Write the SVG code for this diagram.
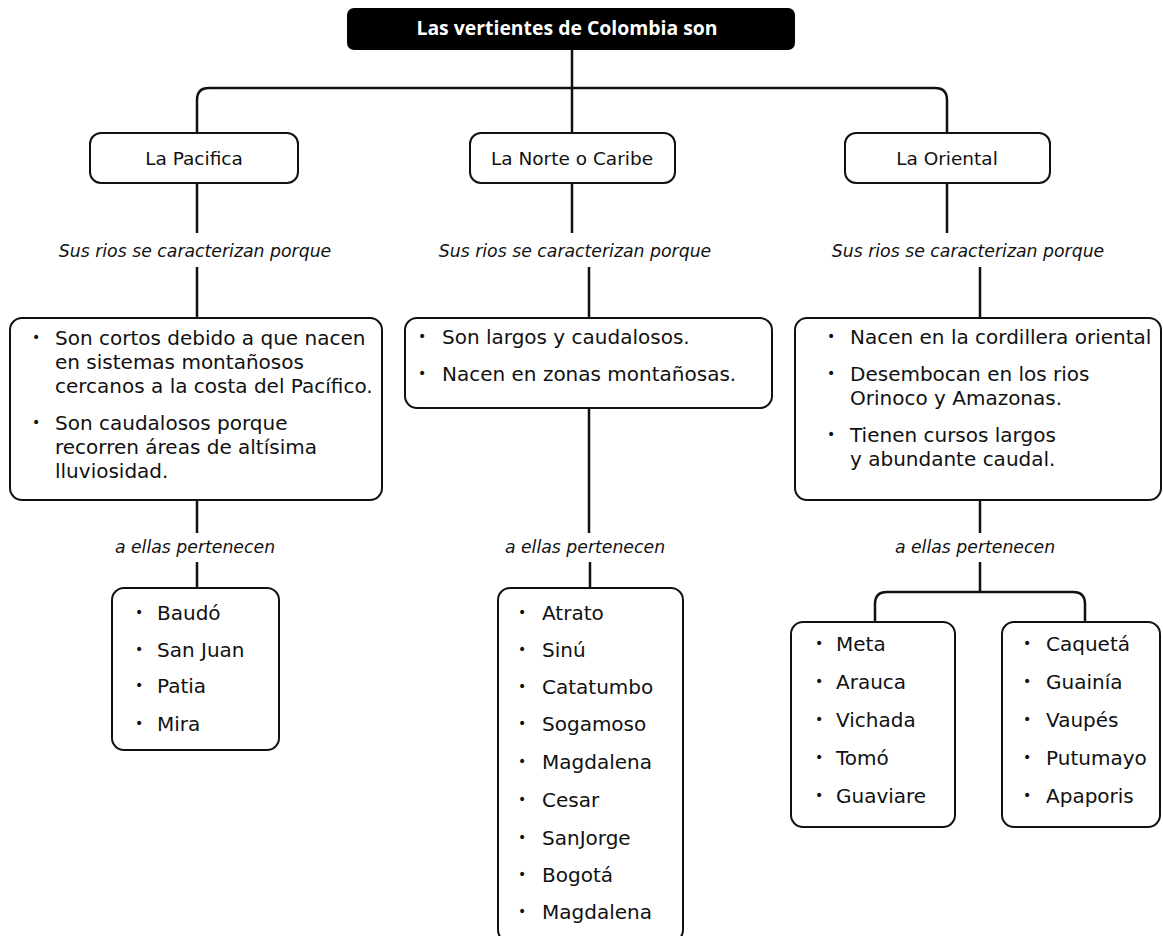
<svg xmlns="http://www.w3.org/2000/svg" width="1163" height="936" viewBox="0 0 1163 936">
<style>
text{font-family:"DejaVu Sans","Open Sans",sans-serif;fill:#111}
.box{fill:#fff;stroke:#111;stroke-width:2}
.t{font-size:18.5px}
.b{font-size:20px}
.it{font-size:17.3px;font-style:italic}
.dot{font-size:14px}
.title{font-family:"Open Sans","DejaVu Sans",sans-serif;font-size:19.4px;font-weight:bold;fill:#fff}
.c{text-anchor:middle}
#connectors path{fill:none;stroke:#111;stroke-width:2.5}
</style>
<rect width="1163" height="936" fill="#fff"/>
<g id="connectors">
<path d="M572,50 V133"/>
<path d="M197,133 V100 Q197,88 209,88 H935 Q947,88 947,100 V133"/>
<path d="M197,183 V233 M197,267 V318 M197,500 V533 M197,562 V588"/>
<path d="M572,183 V233 M589,267 V318 M589,408 V533 M590,562 V588"/>
<path d="M947,183 V233 M980,267 V318 M980,500 V533 M980,562 V592"/>
<path d="M875,622 V604 Q875,592 887,592 H1073 Q1085,592 1085,604 V622"/>
</g>
<g id="title">
<rect x="347" y="8" width="448" height="42" rx="7" fill="#000"/>
<text class="title c" x="567" y="35">Las vertientes de Colombia son</text>
</g>
<g id="pacifica">
<rect class="box" x="90" y="133" width="208" height="50" rx="11"/>
<text class="t c" x="194" y="165">La Pacifica</text>
</g>
<g id="norte">
<rect class="box" x="470" y="133" width="205" height="50" rx="11"/>
<text class="t c" x="572" y="165">La Norte o Caribe</text>
</g>
<g id="oriental">
<rect class="box" x="845" y="133" width="205" height="50" rx="11"/>
<text class="t c" x="947" y="165">La Oriental</text>
</g>
<g id="labels">
<text class="it c" x="195" y="257">Sus rios se caracterizan porque</text>
<text class="it c" x="575" y="257">Sus rios se caracterizan porque</text>
<text class="it c" x="968" y="257">Sus rios se caracterizan porque</text>
<text class="it c" x="195" y="553">a ellas pertenecen</text>
<text class="it c" x="585" y="553">a ellas pertenecen</text>
<text class="it c" x="975" y="553">a ellas pertenecen</text>
</g>
<g id="pacifica-detalle">
<rect class="box" x="10" y="318" width="372" height="182" rx="12"/>
<text class="dot" x="32" y="342">•</text>
<text class="b" x="55" y="345">Son cortos debido a que nacen</text>
<text class="b" x="55" y="369">en sistemas montañosos</text>
<text class="b" x="55" y="393">cercanos a la costa del Pacífico.</text>
<text class="dot" x="32" y="427">•</text>
<text class="b" x="55" y="430">Son caudalosos porque</text>
<text class="b" x="55" y="454">recorren áreas de altísima</text>
<text class="b" x="55" y="478">lluviosidad.</text>
</g>
<g id="norte-detalle">
<rect class="box" x="405" y="318" width="367" height="90" rx="12"/>
<text class="dot" x="418" y="341">•</text>
<text class="b" x="442" y="344">Son largos y caudalosos.</text>
<text class="dot" x="418" y="378">•</text>
<text class="b" x="442" y="381">Nacen en zonas montañosas.</text>
</g>
<g id="oriental-detalle">
<rect class="box" x="795" y="318" width="366" height="182" rx="12"/>
<text class="dot" x="827" y="341">•</text>
<text class="b" x="850" y="344">Nacen en la cordillera oriental</text>
<text class="dot" x="827" y="378">•</text>
<text class="b" x="850" y="381">Desembocan en los rios</text>
<text class="b" x="850" y="405">Orinoco y Amazonas.</text>
<text class="dot" x="827" y="439">•</text>
<text class="b" x="850" y="442">Tienen cursos largos</text>
<text class="b" x="850" y="466">y abundante caudal.</text>
</g>
<g id="pacifica-rios">
<rect class="box" x="112" y="588" width="167" height="162" rx="12"/>
<text class="dot" x="135" y="617">•</text><text class="b" x="157" y="620">Baudó</text>
<text class="dot" x="135" y="654">•</text><text class="b" x="157" y="657">San Juan</text>
<text class="dot" x="135" y="690">•</text><text class="b" x="157" y="693">Patia</text>
<text class="dot" x="135" y="728">•</text><text class="b" x="157" y="731">Mira</text>
</g>
<g id="norte-rios">
<rect class="box" x="498" y="588" width="185" height="354" rx="12"/>
<text class="dot" x="518" y="617">•</text><text class="b" x="542" y="620">Atrato</text>
<text class="dot" x="518" y="654">•</text><text class="b" x="542" y="657">Sinú</text>
<text class="dot" x="518" y="691">•</text><text class="b" x="542" y="694">Catatumbo</text>
<text class="dot" x="518" y="728">•</text><text class="b" x="542" y="731">Sogamoso</text>
<text class="dot" x="518" y="766">•</text><text class="b" x="542" y="769">Magdalena</text>
<text class="dot" x="518" y="804">•</text><text class="b" x="542" y="807">Cesar</text>
<text class="dot" x="518" y="842">•</text><text class="b" x="542" y="845">SanJorge</text>
<text class="dot" x="518" y="879">•</text><text class="b" x="542" y="882">Bogotá</text>
<text class="dot" x="518" y="916">•</text><text class="b" x="542" y="919">Magdalena</text>
</g>
<g id="oriental-rios-1">
<rect class="box" x="791" y="622" width="164" height="205" rx="12"/>
<text class="dot" x="815" y="648">•</text><text class="b" x="836" y="651">Meta</text>
<text class="dot" x="815" y="686">•</text><text class="b" x="836" y="689">Arauca</text>
<text class="dot" x="815" y="724">•</text><text class="b" x="836" y="727">Vichada</text>
<text class="dot" x="815" y="762">•</text><text class="b" x="836" y="765">Tomó</text>
<text class="dot" x="815" y="800">•</text><text class="b" x="836" y="803">Guaviare</text>
</g>
<g id="oriental-rios-2">
<rect class="box" x="1002" y="622" width="158" height="205" rx="12"/>
<text class="dot" x="1023" y="648">•</text><text class="b" x="1046" y="651">Caquetá</text>
<text class="dot" x="1023" y="686">•</text><text class="b" x="1046" y="689">Guainía</text>
<text class="dot" x="1023" y="724">•</text><text class="b" x="1046" y="727">Vaupés</text>
<text class="dot" x="1023" y="762">•</text><text class="b" x="1046" y="765">Putumayo</text>
<text class="dot" x="1023" y="800">•</text><text class="b" x="1046" y="803">Apaporis</text>
</g>
</svg>
